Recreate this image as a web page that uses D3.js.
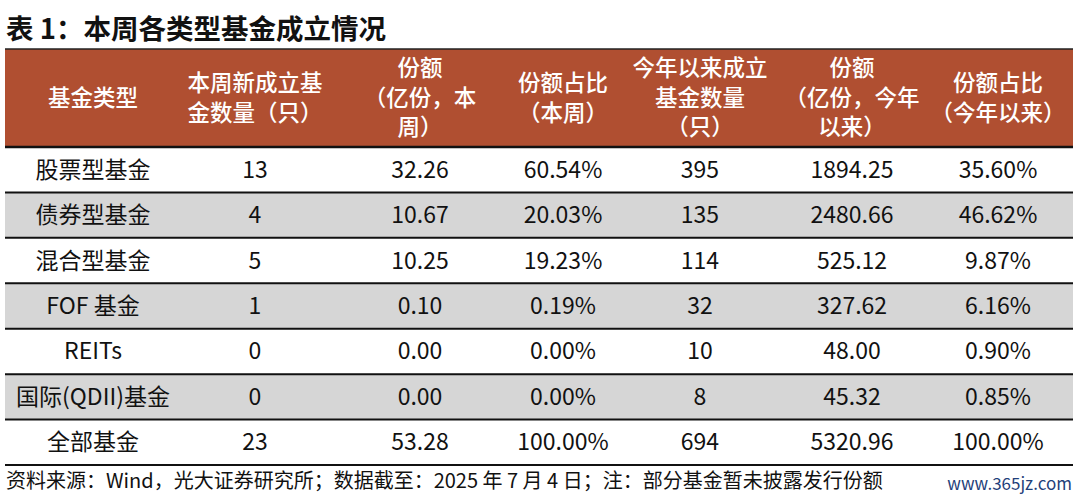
<!DOCTYPE html><html><head><meta charset="utf-8">
<script src="https://cdn.jsdelivr.net/npm/d3@7"></script>
<style>body{margin:0;background:#fff}text{font-family:"Noto Sans CJK SC","Noto Sans",sans-serif}</style></head><body>
<svg id="c" width="1080" height="498"></svg>
<script>
const headers=[["基金类型"],["本周新成立基","金数量（只）"],["份额","（亿份，本","周）"],["份额占比","（本周）"],["今年以来成立","基金数量","（只）"],["份额","（亿份，今年","以来）"],["份额占比","（今年以来）"]];
const categories=["股票型基金","债券型基金","混合型基金","FOF 基金","REITs","国际(QDII)基金","全部基金"];
const weekCount=["13","4","5","1","0","0","23"];
const weekShare=["32.26","10.67","10.25","0.10","0.00","0.00","53.28"];
const weekPct=["60.54%","20.03%","19.23%","0.19%","0.00%","0.00%","100.00%"];
const ytdCount=["395","135","114","32","10","8","694"];
const ytdShare=["1894.25","2480.66","525.12","327.62","48.00","45.32","5320.96"];
const ytdPct=["35.60%","46.62%","9.87%","6.16%","0.90%","0.85%","100.00%"];
const cols=[categories,weekCount,weekShare,weekPct,ytdCount,ytdShare,ytdPct];
const svg=d3.select("#c");
const L=5,R=1073;
const x=d3.scaleOrdinal().domain(d3.range(7)).range([93,255,420,563,700,852,998]);
const y=d3.scaleBand().domain(d3.range(7)).range([147,465]);
svg.append("text").attr("x",6).attr("y",39).attr("font-size",27.5).attr("font-weight","bold").attr("fill","#111").text("表 1：本周各类型基金成立情况");
svg.append("rect").attr("x",L).attr("y",49).attr("width",R-L).attr("height",98).attr("fill","#B04F31");
svg.append("line").attr("x1",L).attr("x2",R).attr("y1",49).attr("y2",49).attr("stroke","#222").attr("stroke-width",1.5);
headers.forEach((h,i)=>{const n=h.length,lh=29.5,y0=98-(n-1)*lh/2;
 h.forEach((t,j)=>svg.append("text").attr("x",x(i)).attr("y",y0+j*lh).attr("dy","0.35em").attr("text-anchor","middle").attr("font-size",22.5).attr("font-weight",500).attr("fill","#fff").text(t));});
d3.range(7).forEach(r=>{
 if(r%2==1)svg.append("rect").attr("x",L).attr("y",y(r)).attr("width",R-L).attr("height",y.bandwidth()).attr("fill","#d6d6d6");
 cols.forEach((c,i)=>svg.append("text").attr("x",x(i)).attr("y",y(r)+y.bandwidth()/2).attr("dy","0.35em").attr("text-anchor","middle").attr("font-size",23).attr("fill","#111").text(c[r]));
});
d3.range(8).forEach(r=>{const yy=r<7?y(r):465;svg.append("line").attr("x1",L).attr("x2",R).attr("y1",yy).attr("y2",yy).attr("stroke","#111").attr("stroke-width",r==0?2.5:2);});
svg.append("text").attr("x",6).attr("y",481).attr("dy","0.35em").attr("font-size",20).attr("fill","#111").text("资料来源：Wind，光大证券研究所；数据截至：2025 年 7 月 4 日；注：部分基金暂未披露发行份额");
svg.append("text").attr("x",1072).attr("y",484).attr("dy","0.35em").attr("text-anchor","end").attr("font-size",17).attr("font-family","DejaVu Serif").attr("fill","#1f3f7a").text("www.365jz.com");
</script></body></html>
